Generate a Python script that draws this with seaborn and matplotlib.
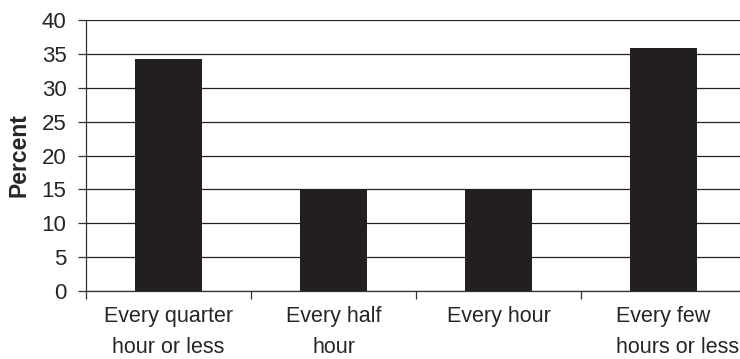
import matplotlib
matplotlib.use("Agg")
import matplotlib.pyplot as plt
import seaborn as sns
import pandas as pd
from matplotlib.ticker import FixedLocator

categories = ["Every quarter\nhour or less", "Every half\nhour", "Every hour", "Every few\nhours or less"]
percent = [34.3, 15.1, 15.1, 35.8]
y_ticks = [0, 5, 10, 15, 20, 25, 30, 35, 40]

sns.set_style("white")
plt.rcParams["font.family"] = ["Liberation Sans", "DejaVu Sans"]

df = pd.DataFrame({"category": categories, "percent": percent})

fig = plt.figure(figsize=(7.40, 3.59), dpi=100)
ax = fig.add_axes([86 / 740, 1 - 291 / 359, (746 - 86) / 740, (291 - 20) / 359])

sns.barplot(data=df, x="category", y="percent", color="#231f20", width=0.41,
            saturation=1, ax=ax, zorder=3, edgecolor="none")

ax.set_ylim(0, 40)
ax.set_xlim(-0.5, 3.5)
ax.set_yticks(y_ticks)
ax.yaxis.grid(True, color="#222222", linewidth=0.9)
ax.set_axisbelow(True)

for side in ["top", "right"]:
    ax.spines[side].set_visible(False)
for side in ["left", "bottom"]:
    ax.spines[side].set_color("#333333")
    ax.spines[side].set_linewidth(0.9)

ax.set_ylabel("Percent", fontsize=16.5, fontweight="bold", labelpad=8)
ax.set_xlabel("")

label_pad = 11
label_size = 15.5
line_gap = 1.6
ax.tick_params(axis="y", which="major", length=6, width=0.9, color="#333333",
               pad=8, labelsize=16, left=True)
ax.tick_params(axis="x", which="major", length=0, pad=label_pad, labelsize=label_size)

# the last category label is left-aligned and runs off the right edge
ticklabels = list(categories[:-1]) + [""]
ax.set_xticks(range(len(categories)))
ax.set_xticklabels(ticklabels)
for lbl in ax.get_xticklabels():
    lbl.set_linespacing(line_gap)
ax.annotate(categories[-1], xy=(len(categories) - 1, 0),
            xycoords=("data", "axes fraction"),
            xytext=(-34, -label_pad), textcoords="offset points",
            ha="left", va="top", fontsize=label_size, linespacing=line_gap,
            annotation_clip=False)

# separator ticks between categories
ax.xaxis.set_minor_locator(FixedLocator([-0.5, 0.5, 1.5, 2.5]))
ax.tick_params(axis="x", which="minor", length=6, width=0.9, color="#333333", bottom=True)

fig.savefig("out.png", dpi=100)
